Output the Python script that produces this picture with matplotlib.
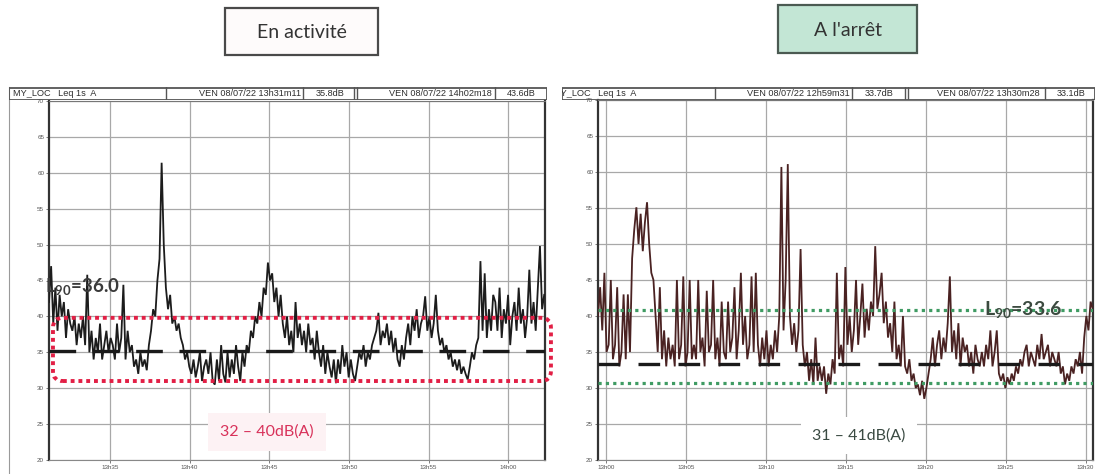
import numpy as np
import matplotlib
matplotlib.use("Agg")
import matplotlib.pyplot as plt
from matplotlib.patches import Rectangle, FancyBboxPatch

plt.rcParams['font.family'] = ['Lato', 'DejaVu Sans']
plt.rcParams['mathtext.fontset'] = 'custom'
plt.rcParams['mathtext.rm'] = 'Lato'
plt.rcParams['mathtext.it'] = 'Lato'
plt.rcParams['mathtext.bf'] = 'Lato:bold'
plt.rcParams['mathtext.default'] = 'regular'

# ---------------- data ----------------
SAMPLE_STEP_S = 8          # one value read every 8 s of the 1 s Leq trace

ACTIVE_TITLE = "En activité"
ACTIVE_START = "13h31m11"
ACTIVE_END = "14h02m18"
ACTIVE_CURSOR_DB = ["35.8dB", "43.6dB"]
ACTIVE_XTICKS = ["13h35", "13h40", "13h45", "13h50", "13h55", "14h00"]
ACTIVE_LEQ = [
    42, 47, 39, 44, 38, 43, 40, 42, 37, 41, 39, 38, 40, 36, 39,
    37, 40, 36, 45.8, 35, 38, 34, 37, 35, 39, 34, 36, 38, 35, 37,
    36, 34, 39, 35, 37, 44.4, 34, 38, 35, 36, 33, 34, 32, 35, 33,
    34, 32.5, 36, 38, 41, 40, 45, 48, 61.4, 50, 44, 41, 43, 39, 40,
    38, 39, 37, 36, 34, 35, 33, 32, 34, 31.5, 33, 35, 31, 33, 34,
    32, 35, 31, 30.5, 34, 31, 36, 32, 30.8, 35, 31.5, 34, 32, 36, 33,
    31, 35, 33, 36, 35, 38, 37, 40, 39, 42, 40, 44, 43, 47.5, 45,
    46, 42, 44, 40, 43, 39, 37, 40, 36, 38, 35, 42, 37, 39, 36,
    38, 35, 39, 36, 37, 34, 38, 35, 33, 36, 32, 35, 33, 31.5, 34,
    30.7, 34, 32, 36, 33, 35, 31.5, 34, 32, 31, 33, 35, 34, 36, 33,
    35, 34, 36, 37, 38, 40.5, 36, 38, 37, 39, 36, 38, 35, 37, 34,
    33, 36, 34, 37, 39, 36, 40, 38, 41, 37, 39, 40, 42.8, 38, 40,
    37, 39, 43, 38, 36, 37, 35, 36, 34, 35, 33, 34, 32.5, 34, 32,
    33, 32, 31.2, 33, 35, 34, 36, 37, 47.7, 38, 46, 37, 41, 38, 43,
    42, 38, 44, 37, 41, 39, 43, 36, 40, 42, 38, 44, 39, 41, 37,
    40, 46.5, 39, 42, 38, 44, 49.8, 41, 43,
]
ACTIVE_L90_LINE = 35.2
ACTIVE_L90_LABEL = "36.0"
ACTIVE_BAND = (31.0, 39.8)
ACTIVE_BAND_LABEL = "32 – 40dB(A)"

STOP_TITLE = "A l'arrêt"
STOP_START = "12h59m31"
STOP_END = "13h30m28"
STOP_CURSOR_DB = ["33.7dB", "33.1dB"]
STOP_XTICKS = ["13h00", "13h05", "13h10", "13h15", "13h20", "13h25", "13h30"]
STOP_LEQ = [
    40, 44, 38, 46, 35, 36, 45, 34, 36, 44, 33, 35, 43, 34, 43,
    35, 48, 52, 55.1, 50, 54.2, 49, 53, 55.8, 50, 46, 45, 40, 35, 44,
    34, 38, 33, 37, 34, 36, 33, 45, 34, 36, 45.5, 33, 35, 45, 34,
    36, 34, 45, 35, 37, 33, 43.5, 35, 36, 45, 34, 37, 33, 42, 35,
    34, 42, 35, 37, 44, 34, 38, 46, 36, 40, 34, 36, 45.5, 35, 46,
    36, 33, 37, 34, 38, 33, 36, 34, 38, 35, 40, 60.7, 38, 45, 61.1,
    40, 36, 39, 35, 38, 49.3, 36, 33, 35, 31, 34, 30.5, 37, 31, 33,
    31, 33, 29.2, 32, 30.5, 34, 32, 46, 34, 36, 33, 46.8, 36, 40, 35,
    38, 45, 36, 40, 44.5, 37, 41, 38, 42, 40, 49.7, 41, 43, 46, 39,
    42, 37, 39, 35, 42, 34, 36, 33, 40, 33, 32, 34, 31, 32, 30,
    30.5, 29, 31, 28.5, 30, 32, 34, 37, 33, 36, 38, 34, 37, 35, 39,
    45.5, 35, 38, 34, 39, 33, 37, 35, 36, 33, 35, 32, 36, 34, 33,
    35, 33, 36, 34, 38, 33, 35, 38, 32, 31, 32, 30, 31.5, 30.5, 32,
    31, 33, 32, 34, 33, 35, 36, 33, 35, 34, 33, 36, 34, 37.5, 34,
    35, 36, 33, 35, 34, 33, 35, 32, 33, 30.5, 32, 31, 33, 32, 34,
    33, 35, 32, 37, 40, 38, 42, 41,
]
STOP_L90_LINE = 33.4
STOP_L90_LABEL = "33.6"
STOP_BAND = (30.7, 40.8)
STOP_BAND_LABEL = "31 – 41dB(A)"

Y_TICKS = [20, 25, 30, 35, 40, 45, 50, 55, 60, 65, 70]
HEADER_ID = "MY_LOC   Leq 1s  A"
HEADER_DAY = "VEN 08/07/22"

# ---------------- helpers ----------------
W, H = 1095, 474


def to_seconds(label):
    label = label.replace("m", "h")
    parts = [int(p) for p in label.split("h") if p != ""]
    while len(parts) < 3:
        parts.append(0)
    return parts[0] * 3600 + parts[1] * 60 + parts[2]


def px_rect(x0, y0, x1, y1):
    return [x0 / W, 1 - y1 / H, (x1 - x0) / W, (y1 - y0) / H]


def px_axes(fig, x0, y0, x1, y1, zorder=3):
    a = fig.add_axes(px_rect(x0, y0, x1, y1))
    a.set_xlim(x0, x1)
    a.set_ylim(y1, y0)
    a.axis('off')
    a.set_zorder(zorder)
    a.patch.set_alpha(0)
    return a


fig = plt.figure(figsize=(W / 100, H / 100), dpi=100)
fig.patch.set_facecolor('white')

GRID = '#a8a8a8'
RED = '#e21f45'
GREEN = '#3f9b63'


def draw_chart(ax, start, end, values, xticks, color, l90, l90_dashes):
    t0 = to_seconds(start)
    dur = (to_seconds(end) - t0) / 60.0
    t = np.arange(len(values)) * SAMPLE_STEP_S / 60.0
    ax.plot(t, values, color=color, lw=1.3, zorder=3, solid_joinstyle='miter')
    ax.set_xlim(0, dur)
    ax.set_ylim(20, 70)
    ax.set_yticks(Y_TICKS)
    ax.set_yticklabels([str(v) for v in Y_TICKS])
    xt = [(to_seconds(lbl) - t0) / 60.0 for lbl in xticks]
    ax.set_xticks(xt)
    ax.set_xticklabels(xticks)
    ax.grid(True, color=GRID, lw=0.9, zorder=1)
    ax.tick_params(axis='both', labelsize=4.5, labelcolor='#555555', length=2,
                   width=0.6, color='#666666', pad=1.5)
    for lab in ax.get_xticklabels() + ax.get_yticklabels():
        lab.set_family(['Liberation Sans', 'DejaVu Sans'])
    for side in ['left', 'right']:
        ax.spines[side].set_color('#333333')
        ax.spines[side].set_linewidth(1.6)
    ax.spines['top'].set_color('#777777')
    ax.spines['bottom'].set_color('#888888')
    ax.spines['bottom'].set_linewidth(0.8)
    ax.axhline(l90, color='#1a1a1a', lw=2.4, dashes=l90_dashes, zorder=4)
    return dur


# ---------------- left chart ----------------
axL = fig.add_axes(px_rect(49, 101, 545, 460))
draw_chart(axL, ACTIVE_START, ACTIVE_END, ACTIVE_LEQ, ACTIVE_XTICKS,
           '#1c1c1c', ACTIVE_L90_LINE, (8, 5))

y0a = (ACTIVE_BAND[0] - 20) / 50.0
y1a = (ACTIVE_BAND[1] - 20) / 50.0
box = FancyBboxPatch((0.008, y0a), 1.004, y1a - y0a,
                     boxstyle="round,pad=0,rounding_size=0.02",
                     mutation_aspect=496 / 358,
                     transform=axL.transAxes, fill=False, ec=RED, lw=2.8,
                     ls=(0, (1, 1.0)), clip_on=False, zorder=6)
axL.add_patch(box)
axL.text(0.44, 0.078, ACTIVE_BAND_LABEL, transform=axL.transAxes,
         ha='center', va='center', fontsize=11.5, color='#d8325a', zorder=7,
         bbox=dict(boxstyle='square,pad=0.75', fc='#fdf2f4', ec='none'))
axL.text(-0.008, 0.483, "L$_{90}$=" + ACTIVE_L90_LABEL, transform=axL.transAxes,
         ha='left', va='center', fontsize=13.5, color='#3a3a3a', zorder=8,
         fontweight='bold', clip_on=False)

# ---------------- right chart ----------------
axR = fig.add_axes(px_rect(598, 100, 1093, 460))
draw_chart(axR, STOP_START, STOP_END, STOP_LEQ, STOP_XTICKS,
           '#4a2222', STOP_L90_LINE, (6.5, 5.5))
for lvl in STOP_BAND:
    axR.axhline(lvl, color=GREEN, lw=2.3, ls=(0, (1, 1.3)), zorder=5)
axR.text(0.527, 0.069, STOP_BAND_LABEL, transform=axR.transAxes,
         ha='center', va='center', fontsize=11.5, color='#3a4a42', zorder=7,
         bbox=dict(boxstyle='square,pad=0.7', fc='white', ec='none'))
axR.text(0.779, 0.417, "L$_{90}$=" + STOP_L90_LABEL, transform=axR.transAxes,
         ha='left', va='center', fontsize=14, color='#3b4a3f', zorder=8,
         fontweight='bold')

# ---------------- header rows ----------------
HFONT = ['Liberation Sans', 'DejaVu Sans']


def header(x0, x1, seps, items):
    a = px_axes(fig, x0, 87, x1, 100)
    a.add_patch(Rectangle((x0, 87.5), x1 - x0, 12, fill=False, ec='#555555', lw=1.3))
    for s in seps:
        a.plot([s, s], [87, 100], color='#555555', lw=1.0)
    for txt, x, ha in items:
        a.text(x, 93.8, txt, ha=ha, va='center', fontsize=6.6, color='#2e2e2e',
               family=HFONT, clip_on=True)
    return a


header(9, 547, [166, 303, 354, 357, 495],
       [(HEADER_ID, 13, 'left'),
        (HEADER_DAY + " " + ACTIVE_START, 301, 'right'),
        (ACTIVE_CURSOR_DB[0], 330, 'center'),
        (HEADER_DAY + " " + ACTIVE_END, 492, 'right'),
        (ACTIVE_CURSOR_DB[1], 521, 'center')])
header(562, 1095, [715, 852, 905, 908, 1045],
       [(HEADER_ID, 553, 'left'),
        (HEADER_DAY + " " + STOP_START, 850, 'right'),
        (STOP_CURSOR_DB[0], 879, 'center'),
        (HEADER_DAY + " " + STOP_END, 1040, 'right'),
        (STOP_CURSOR_DB[1], 1071, 'center')])

# ---------------- titles & frames ----------------
ov = px_axes(fig, 0, 0, W, H, zorder=2)
ov.plot([9, 9], [87, 474], color='#9a9a9a', lw=0.8)
ov.add_patch(Rectangle((225, 8), 153, 47, fc='#fefbfb', ec='#4a4a4a', lw=1.6))
ov.text(301.5, 32, ACTIVE_TITLE, ha='center', va='center', fontsize=14, color='#333333')
ov.add_patch(Rectangle((778, 5), 139, 48, fc='#c3e6d5', ec='#4b5a52', lw=1.6))
ov.text(847.5, 30, STOP_TITLE, ha='center', va='center', fontsize=14, color='#333333')

fig.savefig("out.png", dpi=100)
